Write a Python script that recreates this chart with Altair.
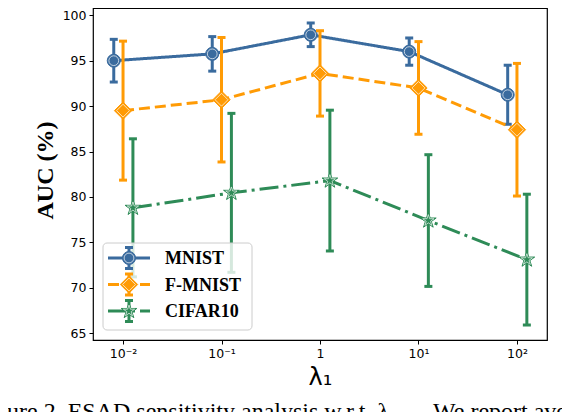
import math
import numpy as np
import pandas as pd
import altair as alt

# ---------------- data ----------------
lam = [0.01, 0.1, 1, 10, 100]
xtick_labels = ["10⁻²", "10⁻¹", "1", "10¹", "10²"]
ytick_values = [65, 70, 75, 80, 85, 90, 95, 100]

series_names = ["MNIST", "F-MNIST", "CIFAR10"]
mnist_mean = [95.0, 95.75, 97.85, 96.0, 91.25]
mnist_std = [2.35, 1.9, 1.3, 1.5, 3.25]
fmnist_mean = [89.5, 90.7, 93.6, 92.0, 87.4]
fmnist_std = [7.65, 6.85, 4.7, 5.1, 7.3]
cifar_mean = [78.8, 80.45, 81.8, 77.4, 73.1]
cifar_std = [7.6, 8.75, 7.75, 7.25, 7.2]

means = [mnist_mean, fmnist_mean, cifar_mean]
stds = [mnist_std, fmnist_std, cifar_std]
dodge = [0.805, 1.0, 1.26]          # horizontal offset of each series (x factor)

# ---------------- styles ----------------
colors = ["#3a6b9e", "#ff9b05", "#2e8b57"]
dashes = [[1, 0], [11, 5], [19, 5, 3, 5]]


def star_path(inner=0.382):
    pts = []
    for k in range(10):
        ang = -math.pi / 2 + k * math.pi / 5
        r = 1.0 if k % 2 == 0 else inner
        pts.append(f"{r*math.cos(ang):.3f},{r*math.sin(ang):.3f}")
    return "M" + "L".join(pts) + "Z"


shapes = ["circle", "diamond", star_path()]
msize = [170, 300, 270]
inner_size = [95, 165, 140]

xscale = alt.Scale(type="log", domain=[10 ** -2.305, 10 ** 2.305])
yscale = alt.Scale(domain=[64.25, 100.8])

expr = "".join(
    f"datum.value == {v} ? '{t}' : " for v, t in zip(lam, xtick_labels)
) + "''"

x_axis = alt.Axis(
    values=lam, labelExpr=expr, title="λ₁", grid=False,
    titleFont="DejaVu Sans", titleFontSize=24, titleFontWeight="normal",
    titleX=227, titleY=37, titleBaseline="middle",
    labelPadding=3,
)
y_axis = alt.Axis(
    values=ytick_values, title="AUC (%)", grid=False,
    titleFont="Liberation Serif", titleFontSize=24, titleFontWeight="bold",
    titleX=-48, titleY=162, titleBaseline="middle", titleAngle=270,
    labelPadding=3,
)


def X():
    return alt.X("x:Q", scale=xscale, axis=x_axis, title="λ₁")


def Y(field):
    return alt.Y(f"{field}:Q", scale=yscale, axis=y_axis, title="AUC (%)")


rows = []
for s, name in enumerate(series_names):
    for i, l in enumerate(lam):
        m = means[s][i]
        sd = stds[s][i]
        rows.append(dict(series=name, x=l * dodge[s], mean=m, lo=m - sd, hi=m + sd))
df = pd.DataFrame(rows)

layers = []
for s, name in enumerate(series_names):
    d = df[df.series == name]
    base = alt.Chart(d)
    line = base.mark_line(color=colors[s], strokeWidth=3, strokeDash=dashes[s],
                          strokeCap="butt").encode(x=X(), y=Y("mean"))
    bar = base.mark_rule(color=colors[s], strokeWidth=3).encode(
        x=X(), y=Y("lo"), y2="hi:Q")
    cap_lo = base.mark_tick(color=colors[s], orient="horizontal", size=8,
                            thickness=3, opacity=1).encode(x=X(), y=Y("lo"))
    cap_hi = base.mark_tick(color=colors[s], orient="horizontal", size=8,
                            thickness=3, opacity=1).encode(x=X(), y=Y("hi"))
    mark = base.mark_point(shape=shapes[s], filled=True, fill=colors[s],
                           stroke=colors[s], strokeWidth=1, size=msize[s],
                           opacity=1).encode(x=X(), y=Y("mean"))
    ring = base.mark_point(shape=shapes[s], filled=False, stroke="white",
                           strokeWidth=0.8, size=inner_size[s],
                           opacity=0.85).encode(x=X(), y=Y("mean"))
    layers += [line, bar, cap_lo, cap_hi, mark, ring]

# ---------------- legend (drawn manually, matplotlib style) ----------------
one = pd.DataFrame({"k": [0]})
lg = alt.Chart(one)
layers.append(lg.mark_rect(fill="white", fillOpacity=0.8, stroke="#cccccc",
                           strokeWidth=1, cornerRadius=4).encode(
    x=alt.value(10), x2=alt.value(159), y=alt.value(235), y2=alt.value(322)))
row_y = [250, 276.5, 303]
for s, name in enumerate(series_names):
    yy = row_y[s]
    layers.append(lg.mark_rule(color=colors[s], strokeWidth=3,
                               strokeDash=dashes[s], strokeCap="butt").encode(
        x=alt.value(15), x2=alt.value(57), y=alt.value(yy)))
    layers.append(lg.mark_rule(color=colors[s], strokeWidth=3).encode(
        x=alt.value(36), y=alt.value(yy - 10.5), y2=alt.value(yy + 10.5)))
    for cy in (yy - 10.5, yy + 10.5):
        layers.append(lg.mark_rule(color=colors[s], strokeWidth=3).encode(
            x=alt.value(32), x2=alt.value(40), y=alt.value(cy)))
    layers.append(lg.mark_point(shape=shapes[s], filled=True, fill=colors[s],
                                stroke=colors[s], strokeWidth=1, size=msize[s],
                                opacity=1).encode(x=alt.value(36), y=alt.value(yy)))
    layers.append(lg.mark_point(shape=shapes[s], filled=False, stroke="white",
                                strokeWidth=0.8, size=inner_size[s],
                                opacity=0.85).encode(x=alt.value(36), y=alt.value(yy)))
    layers.append(alt.Chart(pd.DataFrame({"t": [name]})).mark_text(
        font="Liberation Serif", fontWeight="bold", fontSize=18, align="left",
        baseline="middle", color="black").encode(
        text="t:N", x=alt.value(72), y=alt.value(yy + 1)))

# ---------------- caption (partially cut off, as in the reference) ----------------
cap1 = "Figure 2. ESAD sensitivity analysis w.r.t. λ₁."
cap2 = "We report average"
for txt, cx in ((cap1, -118), (cap2, 340)):
    layers.append(alt.Chart(pd.DataFrame({"t": [txt]})).mark_text(
        font="Liberation Serif", fontSize=24, align="left",
        baseline="alphabetic", color="black").encode(
        text="t:N", x=alt.value(cx), y=alt.value(411)))

chart = alt.layer(*layers).properties(
    width=454, height=332,
    padding={"left": 85, "top": 0, "right": 15, "bottom": 72},
    autosize=alt.AutoSizeParams(type="none"),
    background="white",
).configure_view(stroke="black", strokeWidth=1.2).configure_axis(
    domain=False, ticks=True, tickColor="black", tickSize=4, tickWidth=1,
    labelFont="DejaVu Sans", labelFontSize=12.5, labelColor="black",
    titleColor="black",
)

chart.save("out.html", embed_options={"renderer": "svg", "actions": False})
